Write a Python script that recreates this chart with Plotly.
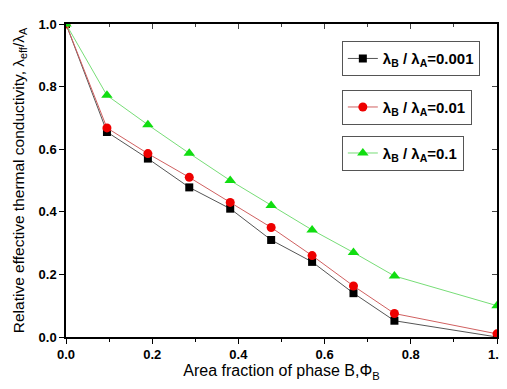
import plotly.graph_objects as go

phi = [0.0, 0.095, 0.19, 0.286, 0.381, 0.476, 0.571, 0.667, 0.762, 1.0]
k_0001 = [1.0, 0.655, 0.57, 0.478, 0.41, 0.31, 0.24, 0.14, 0.052, 0.0]
k_001 = [1.0, 0.668, 0.586, 0.51, 0.43, 0.35, 0.26, 0.163, 0.075, 0.01]
k_01 = [1.0, 0.772, 0.678, 0.587, 0.50, 0.42, 0.342, 0.27, 0.195, 0.10]

names = ["λ<sub>B</sub> / λ<sub>A</sub>=0.001",
         "λ<sub>B</sub> / λ<sub>A</sub>=0.01",
         "λ<sub>B</sub> / λ<sub>A</sub>=0.1"]
ticks = [0, 0.2, 0.4, 0.6, 0.8, 1.0]
tick_text = ["0.0", "0.2", "0.4", "0.6", "0.8", "1.0"]
minor_ticks = [0.1, 0.3, 0.5, 0.7, 0.9]

FONT = "Liberation Sans, Arial, sans-serif"

fig = go.Figure()
fig.add_trace(go.Scatter(x=phi, y=k_0001, name=names[0], mode="lines+markers",
                         line=dict(color="#555555", width=1),
                         marker=dict(symbol="square", size=8, color="black"),
                         legend="legend"))
fig.add_trace(go.Scatter(x=phi, y=k_001, name=names[1], mode="lines+markers",
                         line=dict(color="#d06060", width=1),
                         marker=dict(symbol="circle", size=9, color="#ee0000"),
                         legend="legend2"))
fig.add_trace(go.Scatter(x=phi, y=k_01, name=names[2], mode="lines+markers",
                         line=dict(color="#77dd77", width=1),
                         marker=dict(symbol="triangle-up", size=10, color="#11dd11"),
                         legend="legend3"))

leg_common = dict(bgcolor="white", bordercolor="#555555", borderwidth=1,
                  font=dict(family=FONT, size=15, color="black", weight="bold"),
                  xanchor="left", yanchor="top", itemwidth=30)

# note: page body has an 8px margin, so figure coords are offset by 8px
fig.update_layout(
    width=507, height=389,
    margin=dict(l=58, r=18, t=9, b=60),
    paper_bgcolor="white", plot_bgcolor="white",
    font=dict(family=FONT, color="black"),
    legend=dict(**leg_common, x=0.64, y=0.945),
    legend2=dict(**leg_common, x=0.64, y=0.79),
    legend3=dict(**leg_common, x=0.64, y=0.643),
    xaxis=dict(range=[0, 1.0], tickvals=ticks, ticktext=tick_text,
               ticks="outside", ticklen=5, tickcolor="black",
               minor=dict(tickvals=minor_ticks, ticks="outside", ticklen=3, tickcolor="black"),
               showline=True, linecolor="black", linewidth=1.5, mirror=True,
               showgrid=False, zeroline=False,
               tickfont=dict(family=FONT, size=13, weight="bold"),
               title=dict(text="Area fraction of phase B,Φ<sub>B</sub>", font=dict(family=FONT, size=16), standoff=2)),
    yaxis=dict(range=[0, 1.0], tickvals=ticks, ticktext=tick_text,
               ticks="outside", ticklen=5, tickcolor="black",
               showline=True, linecolor="black", linewidth=1.5, mirror=True,
               showgrid=False, zeroline=False,
               tickfont=dict(family=FONT, size=13, weight="bold"),
               title=dict(text="Relative effective thermal conductivity, λ<sub>eff</sub>/λ<sub>A</sub>",
                          font=dict(family=FONT, size=15.5), standoff=10)),
    xaxis2=dict(overlaying="x", side="top", range=[0, 1.0],
                tickvals=ticks, ticks="inside", ticklen=5,
                minor=dict(tickvals=minor_ticks, ticks="inside", ticklen=3),
                showticklabels=False, showgrid=False, zeroline=False),
    yaxis2=dict(overlaying="y", side="right", range=[0, 1.0],
                tickvals=ticks, ticks="inside", ticklen=5,
                showticklabels=False, showgrid=False, zeroline=False),
)
# invisible trace to activate the mirrored tick axes
fig.add_trace(go.Scatter(x=[0], y=[0], xaxis="x2", yaxis="y2", mode="markers",
                         marker=dict(opacity=0), showlegend=False, hoverinfo="skip"))

fig.write_html("out.html")
